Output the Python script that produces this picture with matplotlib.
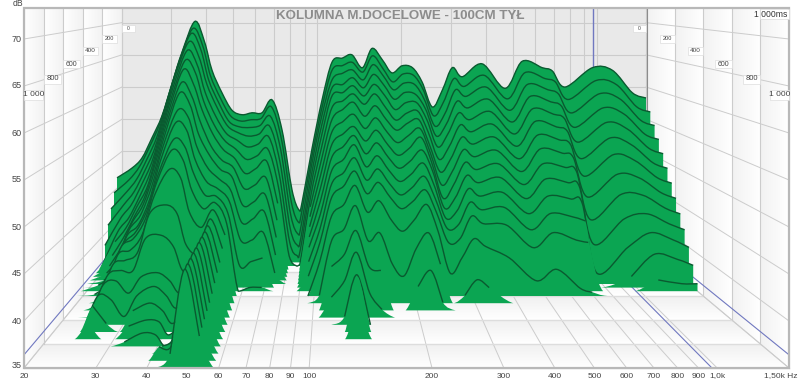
# Waterfall plot of a loudspeaker measurement (REW style)
import matplotlib
matplotlib.use('Agg')
import matplotlib.pyplot as plt
from matplotlib.patches import Polygon, Rectangle, PathPatch
from matplotlib.path import Path
import numpy as np

plt.rcParams['font.family'] = ['Liberation Sans', 'DejaVu Sans']

# Chart text and ticks
title = 'KOLUMNA M.DOCELOWE - 100CM TYŁ'
db_ticks = [70, 65, 60, 55, 50, 45, 40, 35]
freq_ticks = [20, 30, 40, 50, 60, 70, 80, 90, 100, 200, 300, 400, 500, 600, 700, 800, 900, 1000]
freq_labels = ['20', '30', '40', '50', '60', '70', '80', '90', '100', '200', '300', '400', '500', '600', '700', '800', '900', '1,0k']
time_ticks = [0, 200, 400, 600, 800, 1000]
time_labels = ['0', '200', '400', '600', '800', '1 000']
label_y = [28, 39, 51, 64, 79, 95]
cursor_freq = 971
cursor_db = 36.4

# Time of each slice in ms, back to front
times = [0, 30, 60, 90, 120, 150, 180, 210, 240, 270, 300, 330, 360, 400, 460, 520, 580, 640, 700, 760, 820, 880, 940, 1000]

# dB over time at each frequency (ends when it drops below the floor)
d_19 = [45.9, 44, 42, 40, 37.5, 35]
d_22 = [47.4, 46, 44.5, 43, 41.5, 40, 39, 37.5, 36.5, 36, 35.5, 35.2, 35.8, 35.2]
d_24 = [49, 48, 46.5, 45, 43.5, 42, 41, 40, 39, 38, 37, 37.5, 37, 36.5, 36, 36, 35.2, 35]
d_26 = [52.1, 51, 49.5, 48, 46.5, 45, 44, 43, 42.5, 42, 41.5, 41, 41, 40.5, 40, 39.5, 39, 38.5, 38, 36.5, 34]
d_28 = [55.5, 54.5, 53, 51.5, 50, 48.5, 47, 46, 45, 44, 43, 42.5, 42, 41, 40.5, 40, 39.5, 38, 36, 34.5]
d_30 = [60.5, 59.5, 58.5, 57, 55.5, 54, 52.5, 51, 49.5, 48, 46.5, 45.5, 44.5, 43, 41.5, 40, 38, 36, 34]
d_33 = [65.4, 64.5, 63.5, 62.5, 61, 59.5, 58, 56.5, 55, 53.5, 52, 50.5, 49.5, 48, 46.5, 44, 40, 38.5, 37.5, 36.5, 35.5, 34]
d_37 = [70.2, 69.2, 68.5, 67.4, 66.2, 64.9, 63.7, 62, 60.7, 58.5, 57, 55, 53.8, 51.6, 47.6, 44.4, 40.5, 39.6, 38.4, 37.2, 36.5, 34]
d_40 = [67, 66.5, 66, 65, 64, 63, 61.5, 60, 59, 57.5, 56, 54, 52.5, 50.5, 46.5, 43, 39.5, 38.5, 37.5, 37, 36.3, 34]
d_42 = [62.6, 62, 61.5, 61, 60, 59, 58, 56.5, 55, 53.5, 52, 50.5, 48.5, 46, 42.5, 40, 38, 37, 36, 35.5, 35, 35.8, 36.5, 33]
d_46 = [59.1, 58.5, 58, 57.5, 56.5, 55.5, 54.5, 53, 52, 50.5, 49, 47.5, 46, 44, 41.5, 40, 39, 38.5, 38, 37.8, 37.5, 37.3, 37, 36.5]
d_50 = [56.4, 55.8, 55.2, 54.8, 54, 53.2, 52.2, 51, 50, 49, 48, 47.3, 46.8, 46.3, 45.8, 45.6, 45.5, 45.5, 45.5, 45.5, 45.5, 45.5, 45.5, 45.5]
d_54 = [55.7, 55, 54.4, 53.8, 53, 52, 51, 50, 49, 47.5, 46.3, 45, 44, 43, 42, 41, 40.5, 40, 39.5, 39.2, 39, 38.8, 38.6, 38.4]
d_58 = [56, 55.2, 54.3, 53.3, 52, 50.5, 48.8, 47, 45, 43, 41, 38, 35, 33]
d_63 = [56, 55.4, 54.6, 53.6, 52.4, 51, 49.5, 47.5, 45.5, 43.5, 41, 38.5, 35.5, 33]
d_69 = [58, 57.2, 56, 54.8, 53.5, 52, 50.5, 48.5, 46.5, 44.5, 42, 39, 35.5, 33]
d_75 = [53.3, 52.3, 51, 49.5, 48, 46.5, 44.5, 42.5, 40.5, 38.5, 36.5, 34]
d_81 = [44, 42.5, 41, 39.5, 38, 36.5, 34.5]
d_86 = [40.9, 39.5, 38.2, 37, 36, 35, 33]
d_88 = [42.1, 41, 39.5, 38, 36.8, 35.2, 33]
d_96 = [50.5, 49.5, 48.5, 47.3, 46.2, 45, 44, 43, 42, 41, 40, 38.5, 37, 35, 33]
d_104 = [58, 57, 56, 54.8, 53.5, 52, 50.5, 49, 47.5, 46, 44.5, 43, 41.5, 39.5, 36, 33]
d_113 = [63.9, 62.8, 61.5, 60.5, 59.5, 58, 56.5, 55, 53.5, 52, 50.5, 49, 47.5, 45.5, 43, 40.5, 37.5, 34.5]
d_123 = [64.5, 63.5, 62.5, 61, 60, 59, 58, 56.5, 55, 53.5, 52, 50.5, 49, 47, 44.5, 42, 39.5, 36, 34]
d_133 = [65, 64, 63, 62, 61, 60, 59, 57.5, 56, 55, 54, 52.5, 51, 49.5, 47.5, 45, 43, 41, 41.5, 38.5, 33]
d_145 = [63, 62.5, 61.5, 60.5, 59.5, 58.5, 57, 55.5, 54, 52.5, 51, 49.5, 48, 46, 43, 40.5, 38, 35, 33]
d_157 = [66, 65, 63.8, 62.5, 61.2, 60, 58.5, 57, 55.5, 54, 52.5, 51, 49.5, 47.5, 44, 40, 36, 33]
d_171 = [64.2, 63, 62, 60.8, 59.5, 58, 56.5, 55, 53.5, 52, 50.5, 49, 47.5, 45, 40, 33.5]
d_185 = [62.2, 61, 60, 58.8, 57.5, 56.2, 55, 53.5, 52, 50.5, 49, 47.5, 46, 43.5, 38.5, 34]
d_201 = [63.3, 62.2, 61, 59.8, 58.5, 57.2, 56, 54.5, 53, 51.5, 50, 48.5, 47, 45, 42, 38, 33]
d_219 = [63, 62, 60.8, 59.5, 58.5, 57.5, 56.5, 55.5, 54.5, 53, 51.5, 50, 48.5, 47, 44, 40, 34]
d_237 = [60.8, 59.8, 58.5, 57.3, 56, 54.5, 53, 52, 51, 50, 48.5, 47, 45.5, 43.5, 40, 36, 33]
d_258 = [56.9, 55.8, 54.5, 53.3, 52, 50.5, 49, 47.5, 46, 45, 44, 43, 41.5, 38, 33]
d_280 = [59.5, 58, 56.5, 55.2, 54, 52.5, 51, 49.5, 48, 46.5, 45, 43.5, 42, 40, 36, 33]
d_304 = [63, 61.5, 60, 58.5, 57, 55.5, 54, 52.5, 51, 49.5, 48, 46.5, 45, 42.5, 38, 33]
d_330 = [61.6, 60.3, 59, 57.5, 56, 54.5, 53, 51.5, 50, 48.5, 47, 45.5, 44, 41.5, 37, 33]
d_389 = [63.6, 62, 60.4, 58.8, 57.2, 55.6, 54, 52.4, 50.8, 49.2, 47.5, 45.8, 43.8, 40, 33]
d_470 = [59.8, 58.4, 56.9, 55.4, 53.9, 52.4, 50.9, 49.4, 47.9, 46.3, 44.6, 42.8, 40.8, 37, 33]
d_541 = [64, 62.4, 60.8, 59.2, 57.6, 56, 54.3, 52.6, 50.8, 49, 47, 45, 42.8, 38.5, 33]
d_638 = [63, 61.5, 60, 58.4, 56.8, 55.2, 53.6, 52, 50.3, 48.5, 46.6, 44.5, 41.8, 36, 33]
d_693 = [62.5, 61, 59.4, 57.8, 56.2, 54.6, 53, 51.4, 49.8, 48, 46, 44, 41.5, 35.5, 33]
d_770 = [60, 58.3, 56.5, 54.6, 52.7, 50.6, 48.4, 45.8, 43, 40, 36.5, 33]
d_964 = [63, 61.2, 59.4, 57.5, 55.6, 53.6, 51.5, 49, 46.5, 43.5, 40, 36.5, 33]
d_1137 = [62.6, 60.6, 58.6, 56.6, 54.6, 52.6, 50.6, 48.5, 46.4, 44.2, 42, 39.5, 36.5, 33]
d_1341 = [59.1, 57.2, 55.4, 53.6, 51.8, 50, 48.2, 46.4, 44.6, 42.8, 41, 38.8, 36, 33]
d_1500 = [58.3, 56.4, 54.6, 52.8, 51, 49.2, 47.4, 45.6, 43.8, 42, 40, 38, 36, 33]

freqs = [19.2, 21.7, 23.6, 25.6, 27.8, 30.2, 32.8, 36.5, 39.5, 42, 45.6, 49.5, 53.8, 58.4, 63.4, 68.9, 74.8, 81.2, 86, 88.2, 95.8,
         104, 113, 123, 133, 145, 157, 171, 185, 201, 219, 237, 258, 280, 304, 330, 389, 470, 541, 638, 693, 770, 964, 1137, 1341, 1500]
columns = [d_19, d_22, d_24, d_26, d_28, d_30, d_33, d_37, d_40, d_42, d_46, d_50, d_54, d_58, d_63, d_69, d_75, d_81, d_86, d_88, d_96,
           d_104, d_113, d_123, d_133, d_145, d_157, d_171, d_185, d_201, d_219, d_237, d_258, d_280, d_304, d_330, d_389, d_470, d_541,
           d_638, d_693, d_770, d_964, d_1137, d_1341, d_1500]

# Colours
GREEN = '#0ba552'
LINE = '#0a5a30'
GRID = '#cccccc'
BLUE = '#7078c0'
TEXT = '#444444'

# Projection of the 3D box on the picture, front plane is t = 1000 ms
FLOOR_DB = 35
CENTER_X = 335


def scale(t):
    return 0.685 + 0.315 * np.asarray(t, dtype=float) / 1000


def to_x(f, t):
    front = 24 + 408 * np.log10(np.asarray(f, dtype=float) / 20)
    return CENTER_X + scale(t) * (front - CENTER_X)


def to_y(db, t):
    floor = 248 + 0.12 * np.asarray(t, dtype=float)
    return floor - 9.4 * scale(t) * (np.asarray(db, dtype=float) - FLOOR_DB)


def curve(x, y, ymax):
    # Catmull-Rom through the points as bezier segments, kept above the floor
    verts = [(x[0], y[0])]
    n = len(x)
    for i in range(n - 1):
        a, b = max(i - 1, 0), min(i + 2, n - 1)
        c1 = (x[i] + (x[i + 1] - x[a]) / 6, min(y[i] + (y[i + 1] - y[a]) / 6, ymax))
        c2 = (x[i + 1] - (x[b] - x[i]) / 6, min(y[i + 1] - (y[b] - y[i]) / 6, ymax))
        verts += [c1, c2, (x[i + 1], y[i + 1])]
    codes = [Path.MOVETO] + [Path.CURVE4] * (3 * (n - 1))
    return verts, codes


fig = plt.figure(figsize=(8, 3.82), dpi=100)
ax = fig.add_axes([0, 0, 1, 1])


def gradient(extent, c0, c1, horizontal, clip):
    # two colour ramp, clipped to one wall of the box
    a = np.array(matplotlib.colors.to_rgb(c0))
    b = np.array(matplotlib.colors.to_rgb(c1))
    ramp = np.linspace(0, 1, 32)[:, None] * (b - a) + a
    img = ramp[None, :, :] if horizontal else ramp[:, None, :]
    im = ax.imshow(img, extent=extent, aspect='auto', origin='upper', zorder=1, interpolation='bilinear')
    im.set_clip_path(Polygon(clip, transform=ax.transData))


fx0, fx1 = 24, 789
bx0, bx1 = 122, 647
top, fy, by = 8, 368, 248

# Walls and floor
ax.add_patch(Rectangle((bx0, top), bx1 - bx0, by - top, fc='#e9e9e9', ec='none', zorder=1))
left_wall = [(fx0, top), (bx0, top), (bx0, by), (fx0, fy)]
right_wall = [(fx1, top), (bx1, top), (bx1, by), (fx1, fy)]
floor_poly = [(bx0, by), (bx1, by), (fx1, fy), (fx0, fy)]
for i in range(5):
    t0, t1 = time_ticks[i], time_ticks[i + 1]
    x0, x1 = float(to_x(20, t0)), float(to_x(20, t1))
    gradient((x1, x0, fy, top), '#ffffff', '#f2f2f2', True, left_wall)
    x0, x1 = float(to_x(1500, t0)), float(to_x(1500, t1))
    gradient((x0, x1, fy, top), '#f2f2f2', '#ffffff', True, right_wall)
    y0, y1 = 248 + 0.12 * t0, 248 + 0.12 * t1
    gradient((fx0, fx1, y1, y0), '#f0f0f0', '#ffffff', False, floor_poly)

# Grid on back wall, side walls and floor
for db in db_ticks:
    ax.plot([bx0, bx1], [to_y(db, 0)] * 2, color=GRID, lw=0.8, zorder=2)
    for f in (20, 1500):
        ax.plot([to_x(f, 1000), to_x(f, 0)], [to_y(db, 1000), to_y(db, 0)], color=GRID, lw=0.7, zorder=2)
for f in freq_ticks:
    ax.plot([to_x(f, 0)] * 2, [top, by], color=GRID, lw=0.8, zorder=2)
    ax.plot([to_x(f, 0), to_x(f, 1000)], [by, fy], color=GRID, lw=0.7, zorder=2)
ax.plot([to_x(1500, 0), to_x(1500, 1000)], [by, fy], color=GRID, lw=0.7, zorder=2)
for t in time_ticks:
    ax.plot([to_x(20, t), to_x(1500, t)], [to_y(35, t)] * 2, color='#dddddd', lw=1.0, zorder=2)
    ax.plot([to_x(20, t)] * 2, [top, to_y(35, t)], color=GRID, lw=0.8, zorder=2)
    ax.plot([to_x(1500, t)] * 2, [top, to_y(35, t)], color=GRID, lw=0.8, zorder=2)
ax.plot([bx1, bx1], [top, by], color='#8c8c8c', lw=0.8, zorder=2)

# Cursor lines
ax.plot([to_x(cursor_freq, 0)] * 2, [top, by], color=BLUE, lw=1.0, zorder=3)
ax.plot([to_x(cursor_freq, 0), to_x(cursor_freq, 1000)], [by, fy], color=BLUE, lw=0.8, zorder=3)
for f in (20, 1500):
    ax.plot([to_x(f, 1000), to_x(f, 0)], [to_y(cursor_db, 1000), to_y(cursor_db, 0)], color=BLUE, lw=0.8, zorder=3)

# Waterfall slices, each one covers the ones behind it
table = np.full((len(times), len(freqs)), 30.0)
for j, col in enumerate(columns):
    table[:len(col), j] = col

for i, t in enumerate(times):
    row = table[i]
    x = to_x(freqs, t)
    base = float(to_y(FLOOR_DB, t))
    y = to_y(np.maximum(row, FLOOR_DB), t)
    verts, codes = curve(x, y, base)
    verts += [(x[-1], base), (x[0], base), (x[0], y[0])]
    codes += [Path.LINETO, Path.LINETO, Path.CLOSEPOLY]
    ax.add_patch(PathPatch(Path(verts, codes), fc=GREEN, ec='none', lw=0, zorder=4 + i * 0.01))
    # top line only where the slice is above the floor
    above = np.flatnonzero(row >= FLOOR_DB)
    for run in np.split(above, np.flatnonzero(np.diff(above) > 1) + 1):
        if len(run) > 1:
            v, c = curve(x[run], y[run], base)
            ax.add_patch(PathPatch(Path(v, c), fc='none', ec=LINE, lw=1.0, zorder=4 + i * 0.01 + 0.001))

# Frame
ax.add_patch(Rectangle((fx0, top), fx1 - fx0, fy - top, fc='none', ec='#b8b8b8', lw=1.6, zorder=6))

# Depth labels on both walls
for t, lab, yc in zip(time_ticks, time_labels, label_y):
    size = 3.6 + 2.4 * t / 1000
    xl, xr = float(to_x(20, t)), float(to_x(1500, t))
    w = 13 + 6 * t / 1000
    h = 7 + 2.5 * t / 1000
    ax.add_patch(Rectangle((xl, yc - h / 2), w, h, fc='white', ec='#dddddd', lw=0.5, zorder=7))
    ax.add_patch(Rectangle((xr - w, yc - h / 2), w, h, fc='white', ec='#dddddd', lw=0.5, zorder=7))
    ax.text(xl + w / 2, yc, lab, fontsize=size, color=TEXT, va='center', ha='center', zorder=8)
    ax.text(xr - w / 2, yc, lab, fontsize=size, color=TEXT, va='center', ha='center', zorder=8)
ax.add_patch(Rectangle((760, 9), 29, 10, fc='white', ec='#dddddd', lw=0.5, zorder=7))
ax.text(787, 14.5, '1 000ms', fontsize=6.2, color='#333333', va='center', ha='right', zorder=8)

# Title and axis labels
ax.text(400, 16, title, fontsize=9.6, fontweight='bold', color='#8c8c8c', ha='center', va='center', zorder=8)
ax.text(18, 3.5, 'dB', fontsize=6.2, color=TEXT, ha='center', va='center')
for db in db_ticks:
    ax.text(17, to_y(db, 1000) - 3 if db == 35 else to_y(db, 1000), str(db), fontsize=6.5, color=TEXT, ha='center', va='center', zorder=8)
for f, lab in zip(freq_ticks, freq_labels):
    ax.text(to_x(f, 1000), 376, lab, fontsize=6, color=TEXT, ha='center', va='center')
ax.text(798, 376, '1,50k Hz', fontsize=6, color=TEXT, ha='right', va='center')

ax.set_xlim(0, 800)
ax.set_ylim(382, 0)
ax.axis('off')
fig.savefig('out.png', dpi=100)
